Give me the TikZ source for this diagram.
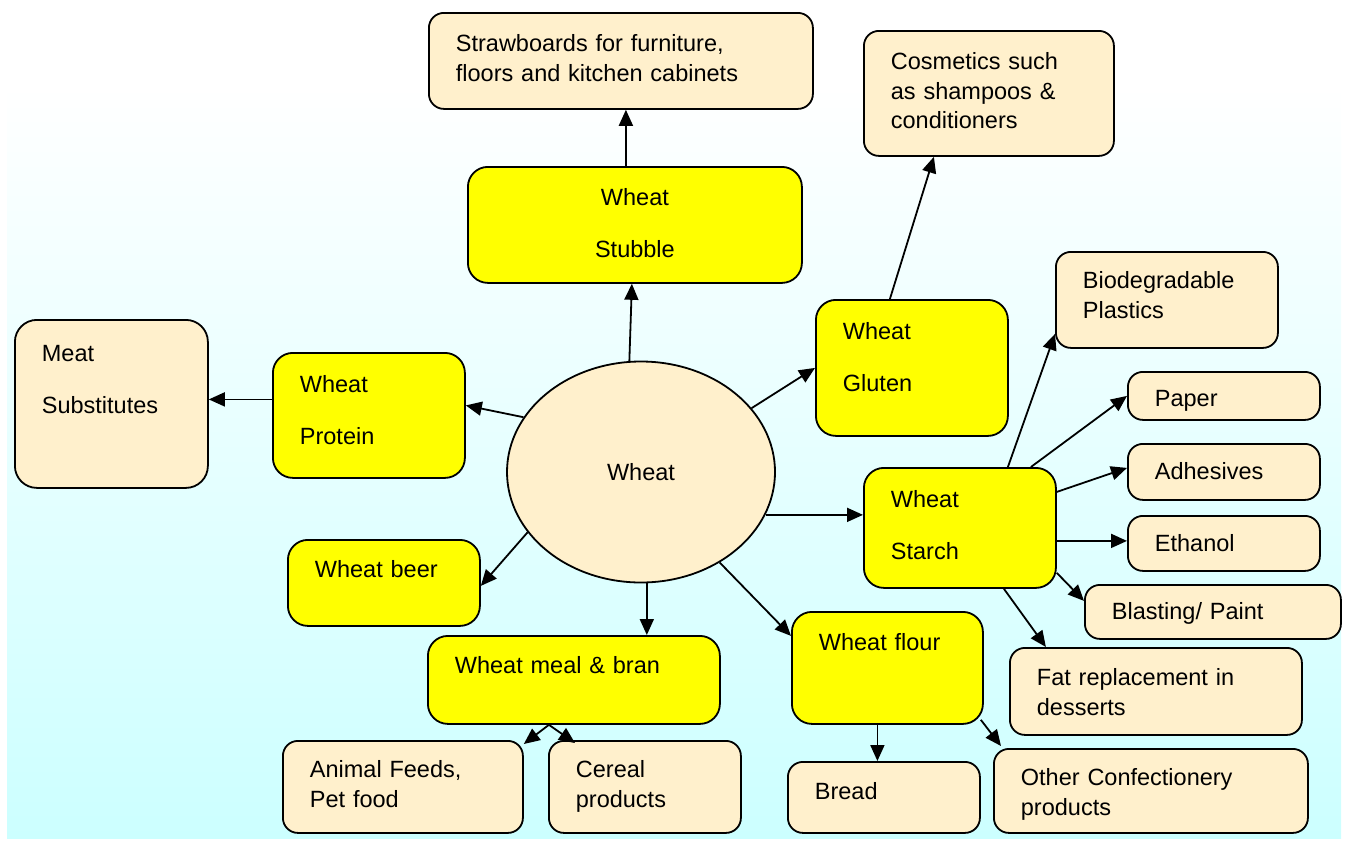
\documentclass[tikz,border=0pt]{standalone}
\usepackage{fontspec}
\setmainfont{Liberation Sans}
\usepackage{tikz}
\usetikzlibrary{arrows.meta,shapes.geometric}
\definecolor{pale}{RGB}{255,240,204}
\definecolor{wheatyellow}{RGB}{255,255,0}
\definecolor{skycyan}{RGB}{204,255,255}
\newcommand{\boxfont}{\fontsize{23.5}{29.5}\selectfont}
\tikzstyle{palebox} = [draw=black, fill=pale, line width=1.8pt, rectangle, rounded corners=15pt, anchor=north west, inner xsep=27pt, inner ysep=0pt, align=left, font=\boxfont]
\tikzstyle{yellowbox} = [palebox, fill=wheatyellow, rounded corners=20pt]
\tikzstyle{wheatnode} = [draw=black, fill=pale, line width=1.8pt, ellipse, minimum width=268pt, minimum height=221pt, inner sep=0pt, font=\boxfont]
\tikzstyle{link} = [-{Triangle[length=16pt,width=14pt]}, line width=1.8pt]
\tikzset{boxdim/.style n args={3}{text width={(#1-54)*1pt}, text height={#3*1pt}, text depth={(#2-#3)*1pt}}}

\begin{document}
\begin{tikzpicture}[x=1pt,y=-1pt]
\useasboundingbox (0,0) rectangle (1348,841);
\shade[top color=white, bottom color=skycyan] (7,85) rectangle (1341,838);

\node[wheatnode] (wheat) at (641,472) {Wheat};

\node[yellowbox, boxdim={334}{116}{39}, align=center] (stubble) at (467,166) {Wheat\\[22pt]Stubble};
\node[yellowbox, boxdim={192}{125}{40}] (protein) at (272,352) {Wheat\\[22pt]Protein};
\node[yellowbox, boxdim={192}{136}{40}] (gluten) at (815,299) {Wheat\\[22pt]Gluten};
\node[yellowbox, boxdim={192}{120}{40}] (starch) at (863,467) {Wheat\\[22pt]Starch};
\node[yellowbox, boxdim={192}{86}{38}] (beer) at (287,539) {Wheat beer};
\node[yellowbox, boxdim={292}{88}{38}] (meal) at (427,635) {Wheat meal \& bran};
\node[yellowbox, boxdim={191}{112}{39}] (flour) at (791,611) {Wheat flour};

\node[palebox, boxdim={384}{96}{39}] (straw) at (428,12) {Strawboards for furniture,\\floors and kitchen cabinets};
\node[palebox, boxdim={250}{125}{39}] (cosm) at (863,30) {Cosmetics such\\as shampoos \&\\conditioners};
\node[palebox, boxdim={222}{96}{37}] (bio) at (1055,251) {Biodegradable\\Plastics};
\node[palebox, boxdim={193}{168}{42}, rounded corners=22pt] (meat) at (14,319) {Meat\\[22pt]Substitutes};
\node[palebox, boxdim={192}{48}{35}] (paper) at (1127,371) {Paper};
\node[palebox, boxdim={192}{56}{36}] (adhes) at (1127,443) {Adhesives};
\node[palebox, boxdim={192}{55}{36}] (ethanol) at (1127,515) {Ethanol};
\node[palebox, boxdim={256}{54}{35}] (blast) at (1084,584) {Blasting/ Paint};
\node[palebox, boxdim={292}{87}{38}] (fat) at (1009,647) {Fat replacement in\\desserts};
\node[palebox, boxdim={240}{92}{37}] (feeds) at (282,740) {Animal Feeds,\\Pet food};
\node[palebox, boxdim={192}{92}{37}] (cereal) at (548,740) {Cereal\\products};
\node[palebox, boxdim={192}{71}{38}] (bread) at (787,761) {Bread};
\node[palebox, boxdim={314}{84}{37}] (other) at (993,748) {Other Confectionery\\products};

\draw[link] (wheat.96) -- ([xshift=-3pt]stubble.south);
\draw[link] ([xshift=-9pt]stubble.north) -- ([xshift=5pt]straw.south);
\draw[link] (wheat.155) -- ([yshift=10pt]protein.east);
\draw[link] ([yshift=16pt]protein.west) -- ([yshift=16pt]protein.west -| meat.east);
\draw[link] (wheat.30) -- (gluten.west);
\draw[link] ([xshift=-22pt]gluten.north) -- ([xshift=-55pt]cosm.south);
\draw[link] (wheat.-19) -- (wheat.-19 -| starch.west);
\draw[link] ([xshift=48pt]starch.north) -- ([yshift=-34pt]bio.west);
\draw[link] ([xshift=71pt]starch.north) -- (paper.west);
\draw[link] ([yshift=36pt]starch.east) -- ([yshift=4pt]adhes.west);
\draw[link] ([yshift=-13pt]starch.east) -- ([yshift=-13pt]starch.east -| ethanol.west);
\draw[link] ([yshift=-45pt]starch.east) -- ([yshift=11pt]blast.west);
\draw[link] ([xshift=44pt]starch.south) -- ([xshift=-110pt]fat.north);
\draw[link] (wheat.208) -- ([yshift=-3pt]beer.east);
\draw[link] (wheat.-87) -- (wheat.-87 |- meal.north);
\draw[link] (wheat.-49) -- ([yshift=32pt]flour.west);
\draw[link] ([xshift=-25pt]meal.south) -- ([yshift=-4pt]feeds.north east);
\draw[link] ([xshift=-25pt]meal.south) -- ([xshift=27pt,yshift=-3pt]cereal.north west);
\draw[link] ([xshift=-10pt]flour.south) -- ([xshift=-10pt]flour.south |- bread.north);
\draw[link] ([xshift=-3pt,yshift=5pt]flour.south east) -- ([xshift=8pt,yshift=2pt]other.north west);
\end{tikzpicture}
\end{document}
